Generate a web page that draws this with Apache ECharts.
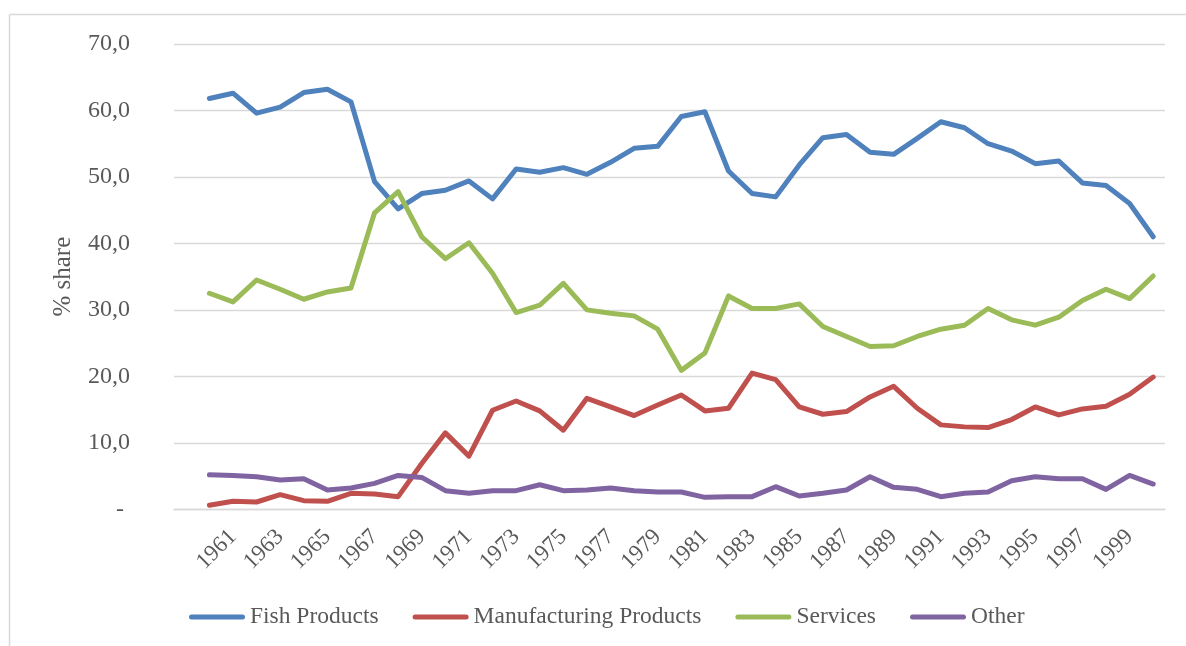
<!DOCTYPE html>
<html>
<head>
<meta charset="utf-8">
<script src="https://cdn.jsdelivr.net/npm/echarts@6/dist/echarts.min.js"></script>
<style>
  html, body { margin: 0; padding: 0; background: #ffffff; }
  #chart { width: 1186px; height: 646px; }
</style>
</head>
<body>
<div id="chart"></div>
<script>
// Export composition by sector, % share, 1960-2000
const years = [
  '1960','1961','1962','1963','1964','1965','1966','1967','1968','1969',
  '1970','1971','1972','1973','1974','1975','1976','1977','1978','1979',
  '1980','1981','1982','1983','1984','1985','1986','1987','1988','1989',
  '1990','1991','1992','1993','1994','1995','1996','1997','1998','1999',
  '2000'
];

const fishProducts = [
  61.8, 62.6, 59.6, 60.5, 62.7, 63.2, 61.3, 49.3, 45.2, 47.5,
  48.0, 49.4, 46.7, 51.2, 50.7, 51.4, 50.4, 52.2, 54.3, 54.6,
  59.1, 59.8, 50.9, 47.5, 47.0, 51.8, 55.9, 56.4, 53.7, 53.4,
  55.8, 58.3, 57.4, 55.0, 53.9, 52.0, 52.4, 49.1, 48.7, 46.0,
  41.0
];

const manufacturingProducts = [
  0.6, 1.2, 1.1, 2.2, 1.3, 1.2, 2.4, 2.3, 1.9, 6.9,
  11.5, 8.0, 14.9, 16.3, 14.8, 11.9, 16.7, 15.4, 14.1, 15.7,
  17.2, 14.8, 15.2, 20.5, 19.5, 15.4, 14.3, 14.7, 16.9, 18.5,
  15.2, 12.7, 12.4, 12.3, 13.5, 15.4, 14.2, 15.1, 15.5, 17.3,
  19.9
];

const services = [
  32.5, 31.2, 34.5, 33.1, 31.6, 32.7, 33.3, 44.6, 47.8, 41.0,
  37.7, 40.1, 35.5, 29.6, 30.7, 34.0, 30.0, 29.5, 29.1, 27.1,
  20.9, 23.5, 32.1, 30.2, 30.2, 30.9, 27.5, 26.0, 24.5, 24.6,
  26.0, 27.1, 27.7, 30.2, 28.5, 27.7, 28.9, 31.4, 33.1, 31.7,
  35.1
];

const other = [
  5.2, 5.1, 4.9, 4.4, 4.6, 2.9, 3.2, 3.9, 5.1, 4.8,
  2.8, 2.4, 2.8, 2.8, 3.7, 2.8, 2.9, 3.2, 2.8, 2.6,
  2.6, 1.8, 1.9, 1.9, 3.4, 2.0, 2.4, 2.9, 4.9, 3.3,
  3.0, 1.9, 2.4, 2.6, 4.3, 4.9, 4.6, 4.6, 3.0, 5.1,
  3.8
];

const seriesNames = ['Fish Products', 'Manufacturing Products', 'Services', 'Other'];
const seriesColors = ['#4F81BD', '#C0504D', '#9BBB59', '#8064A2'];
const seriesValues = [fishProducts, manufacturingProducts, services, other];

// The category axis starts with one empty slot before the first year.
const categories = [''].concat(years);

const FONT = '"Liberation Serif", "Times New Roman", serif';
const TEXT_COLOR = '#595959';
const GRID_COLOR = '#D9D9D9';

const chart = echarts.init(document.getElementById('chart'), null, { renderer: 'canvas' });

// rounded bar used as the legend key
const capsule = 'path://M2.5,0L53.5,0A2.5,2.5,0,0,1,53.5,5L2.5,5A2.5,2.5,0,0,1,2.5,0Z';

chart.setOption({
  backgroundColor: '#ffffff',
  animation: false,
  grid: { left: 174, right: 21, top: 44, bottom: 136.7, containLabel: false },
  xAxis: {
    type: 'category',
    data: categories,
    boundaryGap: true,
    axisLine: { show: true, lineStyle: { color: GRID_COLOR, width: 1.3 } },
    axisTick: { show: false },
    axisLabel: {
      interval: 1,
      rotate: 45,
      margin: 24,
      color: TEXT_COLOR,
      fontFamily: FONT,
      fontSize: 23
    },
    splitLine: { show: false }
  },
  yAxis: {
    type: 'value',
    min: 0,
    max: 70,
    interval: 10,
    name: '% share',
    nameLocation: 'middle',
    nameRotate: 90,
    nameGap: 98,
    nameTextStyle: { color: TEXT_COLOR, fontFamily: FONT, fontSize: 25 },
    axisLine: { show: false },
    axisTick: { show: false },
    axisLabel: {
      margin: 44,
      color: TEXT_COLOR,
      fontFamily: FONT,
      fontSize: 24,
      formatter: function (v) {
        return v === 0 ? '- ' : v.toFixed(1).replace('.', ',');
      }
    },
    splitLine: { show: true, lineStyle: { color: GRID_COLOR, width: 1.3 } }
  },
  legend: {
    left: 184,
    top: 600,
    itemWidth: 56,
    itemHeight: 5,
    itemGap: 34,
    icon: capsule,
    textStyle: { color: TEXT_COLOR, fontFamily: FONT, fontSize: 23.5, lineHeight: 24 },
    data: seriesNames
  },
  graphic: [
    { type: 'line', shape: { x1: 9.5, y1: 14.5, x2: 1186, y2: 14.5 }, style: { stroke: GRID_COLOR, lineWidth: 1.5 }, silent: true },
    { type: 'line', shape: { x1: 9.5, y1: 14.5, x2: 9.5, y2: 646 }, style: { stroke: GRID_COLOR, lineWidth: 1.5 }, silent: true }
  ],
  series: seriesNames.map(function (name, i) {
    return {
      name: name,
      type: 'line',
      data: [null].concat(seriesValues[i]),
      symbol: 'none',
      smooth: false,
      color: seriesColors[i],
      lineStyle: { color: seriesColors[i], width: 5, cap: 'round', join: 'round' },
      emphasis: { disabled: true }
    };
  })
});
</script>
</body>
</html>
